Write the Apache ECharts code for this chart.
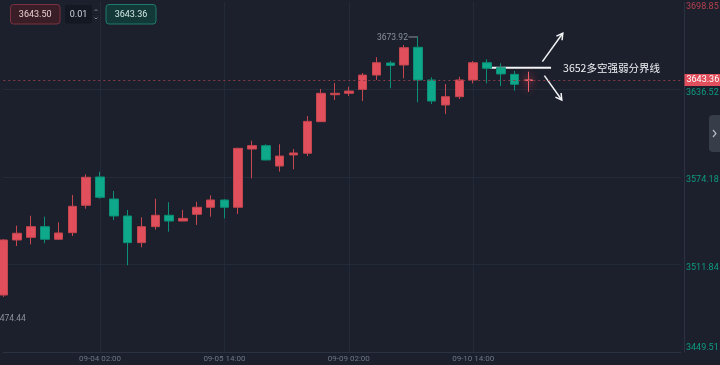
<!DOCTYPE html>
<html><head><meta charset="utf-8">
<script src="https://cdn.jsdelivr.net/npm/echarts@6/dist/echarts.min.js"></script>
<style>html,body{margin:0;padding:0;background:#1b202c;}#c{width:720px;height:365px;}</style>
</head><body><div id="c"></div>
<script>
const categories = [
 '09-02 22:00','09-03 02:00','09-03 06:00','09-03 10:00','09-03 14:00','09-03 18:00','09-03 22:00',
 '09-04 02:00','09-04 06:00','09-04 10:00','09-04 14:00','09-04 18:00','09-04 22:00',
 '09-05 02:00','09-05 06:00','09-05 10:00','09-05 14:00','09-05 18:00','09-05 22:00',
 '09-08 02:00','09-08 06:00','09-08 10:00','09-08 14:00','09-08 18:00','09-08 22:00',
 '09-09 02:00','09-09 06:00','09-09 10:00','09-09 14:00','09-09 18:00','09-09 22:00',
 '09-10 02:00','09-10 06:00','09-10 10:00','09-10 14:00','09-10 18:00','09-10 22:00',
 '09-11 02:00','09-11 06:00','09-11 10:00','09-11 14:00','09-11 18:00','09-11 22:00',
 '09-12 02:00','09-12 06:00','09-12 10:00','09-12 14:00','09-12 18:00','09-12 22:00','09-15 02:00'
];
const opens  = [3490.1,3529.3,3531.2,3538.8,3529.8,3534.5,3554.0,3574.2,3558.5,3546.4,3527.4,3538.8,3546.9,3542.8,3547.6,3552.6,3557.8,3552.6,3594.1,3596.5,3582.0,3589.9,3591.1,3613.6,3632.8,3633.8,3636.6,3646.8,3655.4,3654.0,3666.6,3643.3,3625.5,3631.4,3643.3,3655.6,3652.0,3647.3,3642.9];
const closes = [3529.3,3534.1,3538.8,3529.8,3534.3,3553.3,3574.0,3559.7,3546.4,3527.4,3538.8,3546.9,3542.8,3544.7,3552.6,3557.8,3552.6,3594.6,3596.5,3586.3,3589.1,3591.3,3613.8,3633.8,3633.8,3635.4,3646.8,3655.6,3653.7,3666.3,3643.3,3628.3,3631.4,3643.3,3655.6,3651.6,3647.6,3640.2,3643.36];
const lows   = [3488.7,3525.0,3526.2,3527.0,3529.3,3532.1,3551.6,3558.7,3543.5,3511.3,3524.1,3536.6,3535.2,3542.8,3540.0,3545.9,3544.7,3547.8,3573.2,3586.0,3578.0,3579.7,3589.1,3613.6,3629.0,3631.9,3628.3,3643.3,3637.4,3644.5,3627.4,3626.2,3619.1,3629.7,3640.9,3640.9,3639.0,3635.6,3634.9];
const highs  = [3530.0,3539.5,3546.6,3545.9,3541.9,3561.4,3576.1,3577.9,3564.2,3550.7,3545.5,3558.7,3556.2,3550.7,3556.6,3561.1,3558.3,3595.0,3600.0,3597.5,3597.5,3594.1,3617.6,3636.9,3641.1,3638.5,3648.3,3659.5,3656.8,3668.2,3673.92,3645.2,3640.4,3645.6,3656.8,3658.0,3655.2,3649.7,3649.2];
const yTickLabels = ['3449.51','3511.84','3574.18','3636.52','3698.85'];
const xTickLabels = ['09-04 02:00','09-05 14:00','09-09 02:00','09-10 14:00'];
const yMin = 3449.51, yMax = 3698.85;
const lastPrice = 3643.36, askPrice = '3643.50', lotSize = '0.01';
const highMark = 3673.92, lowMark = 3474.44;
const pivotLevel = 3652, pivotText = '3652多空强弱分界线';

const RED = '#e04f5b', GREEN = '#0ea88a';
const FONT = "Roboto,'Noto Sans',sans-serif";
const candles = opens.map((o, i) => {
  const d = { value: [o, closes[i], lows[i], highs[i]] };
  if (i === opens.length - 1) d.itemStyle = { color: '#f0606c', borderColor: '#f0606c', shadowColor: 'rgba(255,70,90,0.9)', shadowBlur: 8 };
  return d;
});
const showX = (idx, val) => xTickLabels.includes(val);
const yLabel = v => {
  const s = yTickLabels[v];
  const up = parseFloat(s) > lastPrice;
  const key = v === 0 || v === yTickLabels.length - 1 ? (up ? 'eu' : 'ed') : (up ? 'mu' : 'md');
  return '{' + key + '|' + s + '}';
};

const chart = echarts.init(document.getElementById('c'), null, { renderer: 'canvas' });
chart.setOption({
  animation: false,
  backgroundColor: '#1b202c',
  grid: { left: 3.3, top: 2, width: 677.2, height: 350, containLabel: false, outerBoundsMode: 'none' },
  xAxis: {
    type: 'category', data: categories, boundaryGap: false,
    axisLine: { show: true, lineStyle: { color: '#2b3241' } },
    axisTick: { show: false },
    axisLabel: { interval: showX, color: '#6f7684', fontSize: 8, fontFamily: FONT, margin: 3 },
    splitLine: { show: true, interval: showX, lineStyle: { color: '#242b38' } }
  },
  yAxis: [
    { type: 'value', min: yMin, max: yMax, show: false },
    { type: 'value', min: 0, max: 4, interval: 1, position: 'right', offset: 3.5,
      axisLine: { show: true, lineStyle: { color: '#2b3241' } },
      axisTick: { show: false },
      axisLabel: {
        formatter: yLabel,
        fontSize: 9, fontFamily: FONT, margin: 2,
        verticalAlignMinLabel: 'bottom', verticalAlignMaxLabel: 'top',
        rich: {
          eu: { color: '#b8404e', fontSize: 9, fontFamily: FONT },
          ed: { color: '#0f9a7e', fontSize: 9, fontFamily: FONT },
          mu: { color: '#b8404e', fontSize: 9, fontFamily: FONT, padding: [6, 0, 0, 0] },
          md: { color: '#0f9a7e', fontSize: 9, fontFamily: FONT, padding: [6, 0, 0, 0] }
        }
      },
      splitLine: { show: true, showMinLine: false, showMaxLine: false, lineStyle: { color: '#242b38' } }
    }
  ],
  series: [{
    type: 'candlestick', xAxisIndex: 0, yAxisIndex: 0, clip: false,
    barWidth: 9,
    data: candles,
    itemStyle: { color: RED, color0: GREEN, borderColor: '#c4464f', borderColor0: '#0c8f76', borderWidth: 1 },
    markLine: {
      silent: true, symbol: 'none', animation: false,
      data: [{ yAxis: lastPrice }],
      lineStyle: { color: '#8a3a48', type: [2, 3], width: 1 },
      label: { show: true, position: 'end', formatter: lastPrice.toFixed(2), color: '#ffffff',
        backgroundColor: RED, padding: [2, 2, 1, 2], fontSize: 9, fontFamily: FONT, distance: 4 }
    }
  }]
});

// annotations positioned from the chart's scales
const px = (i, v) => chart.convertToPixel({ xAxisIndex: 0, yAxisIndex: 0 }, [i, v]);
const p0 = px(0, yMin), p1 = px(1, yMin);
const step = p1[0] - p0[0];
const xAt = i => p0[0] + i * step;
const yAt = v => px(0, v)[1];
const hiIdx = highs.indexOf(highMark);

function arrow(x1, y1, x2, y2) {
  const a = Math.atan2(y2 - y1, x2 - x1), L = 7, w = Math.PI / 6;
  return [
    { type: 'line', shape: { x1, y1, x2, y2 }, style: { stroke: '#f2f3f5', lineWidth: 1.5 } },
    { type: 'polyline', shape: { points: [[x2 - L * Math.cos(a - w), y2 - L * Math.sin(a - w)], [x2, y2], [x2 - L * Math.cos(a + w), y2 - L * Math.sin(a + w)]] },
      style: { stroke: '#f2f3f5', lineWidth: 1.5, fill: null } }
  ];
}
const yh = yAt(highMark), yl = yAt(lowMark), yp = yAt(pivotLevel);
const lx0 = xAt(35) + 2.8, lx1 = xAt(38) + 22.6;
const els = [
  { type: 'line', shape: { x1: xAt(hiIdx) - 9.5, y1: yh, x2: xAt(hiIdx), y2: yh }, style: { stroke: '#8a909c', lineWidth: 1 } },
  { type: 'text', x: xAt(hiIdx) - 10, y: yh + 1, style: { text: highMark.toFixed(2), fill: '#8a909c', font: '8.5px ' + FONT, align: 'right', verticalAlign: 'middle' } },
  { type: 'text', x: xAt(-1) + 5.5, y: yl + 2, style: { text: lowMark.toFixed(2), fill: '#8a909c', font: '8.5px ' + FONT, align: 'left', verticalAlign: 'middle' } },
  { type: 'line', shape: { x1: lx0, y1: yp, x2: lx1, y2: yp }, style: { stroke: '#f2f3f5', lineWidth: 2 } },
  ...arrow(lx1 - 8.7, yp - 6.1, lx1 + 11.7, yp - 34.5),
  ...arrow(lx1 - 6.7, yp + 7.9, lx1 + 10.7, yp + 32.2),
  { type: 'text', x: lx1 + 12, y: yp, style: { text: pivotText, fill: '#f0f2f5', font: "10.5px 'Noto Sans CJK SC',sans-serif", align: 'left', verticalAlign: 'middle' } },
  // top-left order boxes
  { type: 'rect', shape: { x: 10.5, y: 4.5, width: 49.5, height: 19.5, r: 3 }, style: { fill: '#3a1e27', stroke: '#7c3040', lineWidth: 1 } },
  { type: 'text', x: 35.2, y: 14.5, style: { text: askPrice, fill: '#e6cfd3', font: '9px ' + FONT, align: 'center', verticalAlign: 'middle' } },
  { type: 'rect', shape: { x: 65, y: 5, width: 27, height: 18.5, r: 2 }, style: { fill: '#131822' } },
  { type: 'text', x: 78.5, y: 14.5, style: { text: lotSize, fill: '#cfd3da', font: '9px ' + FONT, align: 'center', verticalAlign: 'middle' } },
  { type: 'polyline', shape: { points: [[94.5, 11], [96, 9.5], [97.5, 11]] }, style: { stroke: '#7b818d', lineWidth: 1, fill: null } },
  { type: 'polyline', shape: { points: [[94.5, 17.5], [96, 19], [97.5, 17.5]] }, style: { stroke: '#7b818d', lineWidth: 1, fill: null } },
  { type: 'rect', shape: { x: 106, y: 4.5, width: 50, height: 19.5, r: 3 }, style: { fill: '#123838', stroke: '#1e7a6d', lineWidth: 1 } },
  { type: 'text', x: 131, y: 14.5, style: { text: lastPrice.toFixed(2), fill: '#d3e9e5', font: '9px ' + FONT, align: 'center', verticalAlign: 'middle' } },
  // right side collapse tab
  { type: 'rect', shape: { x: 709, y: 115, width: 12, height: 37, r: [4, 0, 0, 4] }, style: { fill: '#373d49' } },
  { type: 'polyline', shape: { points: [[713, 130], [716, 133.5], [713, 137]] }, style: { stroke: '#b4bac4', lineWidth: 1.2, fill: null } }
];
chart.setOption({ graphic: { elements: els } });
</script></body></html>
